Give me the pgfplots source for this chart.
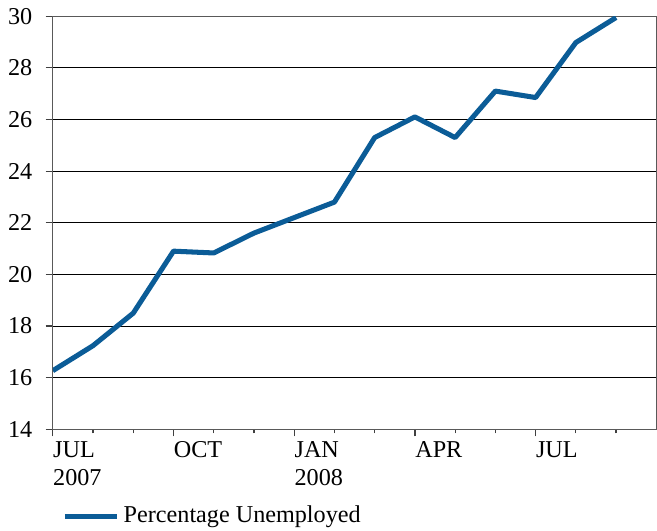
\documentclass[border=0pt]{standalone}
\usepackage{fontspec}
\setmainfont{Liberation Serif}
\usepackage{pgfplots}
\pgfplotsset{compat=1.18}
\definecolor{unemp}{HTML}{0B5C97}
\begin{document}
\rmfamily\fontsize{12}{14}\selectfont
\begin{tikzpicture}[font=\rmfamily]
\begin{axis}[
    scale only axis,
    width=299.5pt, height=205pt,
    xmin=0, xmax=15,
    ymin=14, ymax=30,
    ytick={14,16,...,30},
    xtick={0,3,6,9,12},
    xticklabels={{JUL\\2007}, OCT, {JAN\\2008}, APR, JUL},
    minor xtick={1,2,4,5,7,8,10,11,13,14},
    xticklabel style={anchor=north west, align=left, inner xsep=0pt, yshift=1.5pt},
    yticklabel style={xshift=-2.5pt},
    /pgf/number format/assume math mode=true,
    ymajorgrids,
    grid style={draw=black, line width=0.5pt},
    axis line style={draw=black!65, line width=0.7pt},
    tick style={draw=black!75, line width=0.6pt},
    tick align=outside,
    major tick length=3.5pt,
    minor tick length=2pt,
    xtick pos=bottom, ytick pos=left,
    legend style={at={(0.015,-0.175)}, anchor=north west, draw=none, fill=none,
        inner sep=0pt, cells={anchor=west}, font=\rmfamily},
    legend image code/.code={\draw[#1] (0pt,0pt) -- (26pt,0pt);},
]
\addplot[unemp, line width=2.5pt, line join=round] coordinates {
(0,16.27) (1,17.24) (2,18.5) (3,20.9) (4,20.83) (5,21.6) (6,22.2) (7,22.8)
(8,25.3) (9,26.1) (10,25.3) (11,27.1) (12,26.85) (13,28.98) (14,29.95)
};
\addlegendentry{Percentage Unemployed}
\end{axis}
\end{tikzpicture}
\end{document}
